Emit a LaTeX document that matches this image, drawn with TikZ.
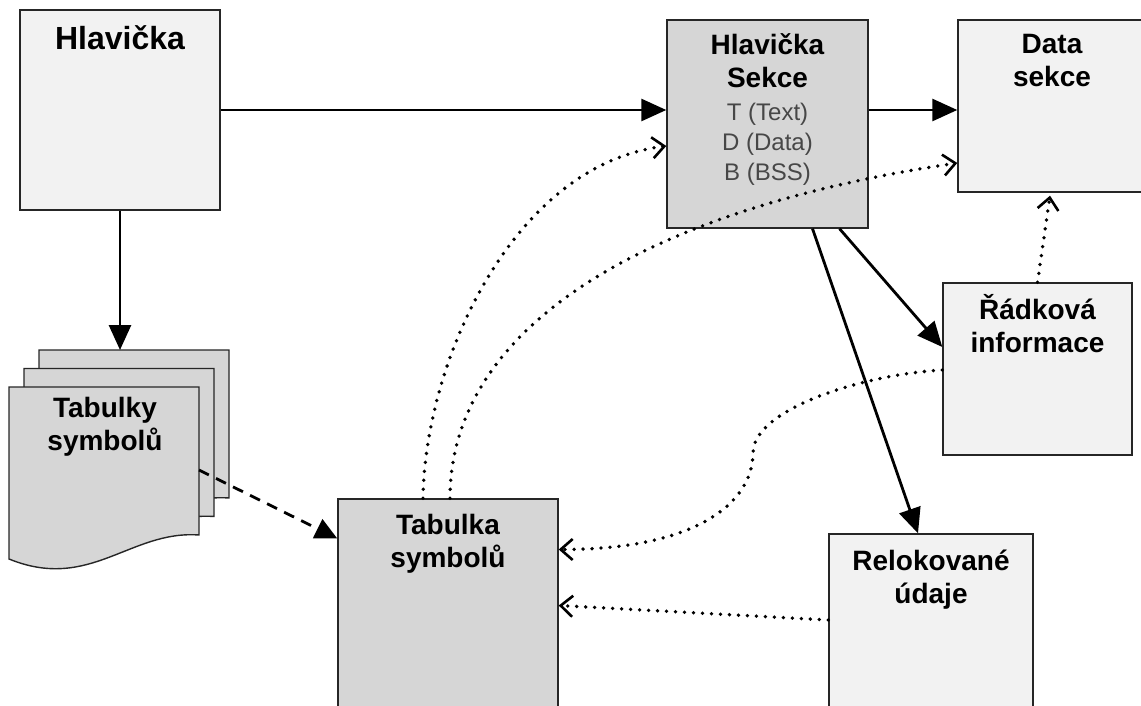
\documentclass[tikz,border=0pt]{standalone}
\usepackage{fontspec}
\setmainfont{Liberation Sans}
\usetikzlibrary{positioning,arrows.meta}

\newcommand{\secline}[1]{{\mdseries\fontsize{24}{30}\selectfont\color{black!72}#1}}

\tikzset{
	lightbox/.style={draw=black!85, line width=1.4pt, fill=black!5, inner sep=0pt},
	darkbox/.style={lightbox, fill=black!16},
	boxtitle/.style={anchor=north, inner sep=0pt, align=center,
		font=\fontsize{28}{33}\selectfont\bfseries},
	flow/.style={line width=2.8pt, -{Triangle[length=25pt,width=22pt]}},
	feed/.style={line width=2.8pt, dash pattern=on 11pt off 8pt, -{Triangle[length=22pt,width=21pt]}},
	ref/.style={line width=3.8pt, line cap=round, dash pattern=on 0pt off 9pt,
		-{Straight Barb[length=12pt,width=21pt,line width=2.6pt]}}
}

\begin{document}
\begin{tikzpicture}[x=1pt,y=-1pt]
	\useasboundingbox (0,0) rectangle (1141,706);
	\clip (0,0) rectangle (1141,706);
	
	\node[lightbox, minimum width=200pt, minimum height=200pt] (hdr) at (120,110) {};
	\node[darkbox, minimum width=201pt, minimum height=208pt] (sect) at (767.5,124) {};
	\node[lightbox, minimum width=188pt, minimum height=172pt] (dsec) at (1052,106) {};
	\node[lightbox, minimum width=189pt, minimum height=172pt] (rinfo) at (1037.5,369) {};
	\node[lightbox, minimum width=204pt, minimum height=186pt] (reloc) at (931,627) {};
	\node[darkbox, minimum width=220pt, minimum height=221pt] (symtab) at (448,609.5) {};
	
	\foreach \s in {2,1,0}
		\draw[darkbox, shift={(15*\s,-18.5*\s)}] (9,387) -- (199,387) -- (199,535)
			.. controls (130,530) and (90,592) .. (9,559) -- cycle;
	\coordinate (stacktop) at (120,350);
	\coordinate (stackout) at (199,470);
	
	\node[boxtitle, font=\fontsize{32}{36}\selectfont\bfseries, below=16pt of hdr.north] (hdrtxt) {Hlavička};
	\node[boxtitle, below=14pt of sect.north] (secttxt) {Hlavička\\Sekce\\\secline{T (Text)}\\[-3pt]\secline{D (Data)}\\[-3pt]\secline{B (BSS)}};
	\node[boxtitle, below=15pt of dsec.north] (dsectxt) {Data\\sekce};
	\node[boxtitle, below=12pt of rinfo.north] (rinfotxt) {Řádková\\informace};
	\node[boxtitle, below=16pt of reloc.north] (reloctxt) {Relokované\\údaje};
	\node[boxtitle, below=16pt of symtab.north] (symtabtxt) {Tabulka\\symbolů};
	\node[boxtitle] (tabs) at (105,397) {Tabulky\\symbolů};
	
	\draw[flow] (hdr.east) -- (hdr.east -| sect.west);
	\draw[flow] (hdr.south) -- (stacktop);
	\draw[flow] (sect.east |- hdr.east) -- (dsec.west |- hdr.east);
	\draw[flow] ([xshift=72pt]sect.south) -- ([yshift=22pt]rinfo.west);
	\draw[flow] ([xshift=45pt]sect.south) -- ([xshift=-13pt]reloc.north);
	\draw[feed] (stackout) -- ([yshift=71pt]symtab.west);
	
	\draw[ref] ([xshift=-25pt]symtab.north) .. controls +(2,-139) and +(-152,19) .. ([yshift=-22pt]sect.west);
	\draw[ref] ([xshift=2pt]symtab.north) .. controls +(0,-169) and +(-318,47) .. ([yshift=-57pt]dsec.west);
	\draw[ref] ([yshift=-1pt]rinfo.west) .. controls +(-83,5) and +(0,-43) .. (753,453)
		.. controls +(0,47) and +(142,0) .. ([yshift=60pt]symtab.east);
	\draw[ref] ([yshift=7pt]reloc.west) -- ([yshift=4pt]symtab.east);
	\draw[ref] (rinfo.north) -- ([xshift=-2pt,yshift=-3pt]dsec.south);
\end{tikzpicture}
\end{document}
